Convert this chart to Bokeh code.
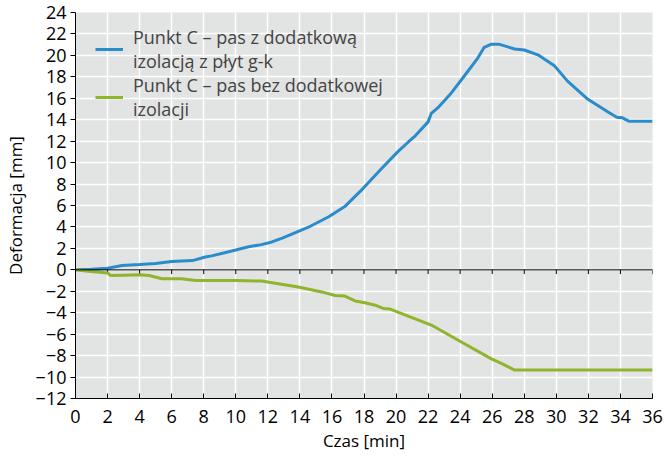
from bokeh.plotting import figure
from bokeh.models import Legend, LegendItem, Range1d, FixedTicker, Span
from bokeh.embed import file_html
from bokeh.resources import INLINE

# ---- data ----
blue_t = [0, 1, 2, 2.9, 4, 5, 6, 7.3, 8.1, 8.5, 10, 10.8, 11.6, 12.25, 12.9, 14.5, 15.8,
          16.8, 17.95, 19.1, 20.1, 20.75, 21.2, 22.0, 22.2, 22.6, 23.45, 24.27, 25.1, 25.5,
          25.95, 26.4, 27.4, 28.0, 28.85, 29.9, 30.7, 31.97, 33.2, 33.8, 34.1, 34.55, 36]
blue_v = [0, 0.05, 0.15, 0.4, 0.5, 0.6, 0.77, 0.86, 1.2, 1.3, 1.85, 2.15, 2.35, 2.6, 2.95, 3.95, 4.95,
          5.9, 7.6, 9.45, 11.0, 11.9, 12.5, 13.8, 14.6, 15.1, 16.5, 18.1, 19.75, 20.75,
          21.05, 21.05, 20.6, 20.5, 20.05, 19.0, 17.6, 15.9, 14.75, 14.2, 14.2, 13.85, 13.85]

green_t = [0, 0.8, 1.5, 2.0, 2.2, 3.0, 4.0, 4.6, 5.4, 6.6, 7.5, 10.0, 11.6, 13.9, 15.36, 16.2,
           16.8, 17.45, 18.06, 18.7, 19.2, 19.6, 20.55, 22.2, 24.1, 25.95, 26.6, 27.4, 36]
green_v = [0, -0.13, -0.22, -0.3, -0.53, -0.5, -0.46, -0.53, -0.83, -0.83, -0.99, -1.0, -1.05, -1.6, -2.06, -2.4,
           -2.45, -2.9, -3.07, -3.3, -3.6, -3.65, -4.2, -5.15, -6.75, -8.3, -8.75, -9.35, -9.35]

label_blue = "Punkt C – pas z dodatkową\nizolacją z płyt g-k"
label_green = "Punkt C – pas bez dodatkowej\nizolacji"

x_ticks = list(range(0, 37, 2))
y_ticks = list(range(-12, 25, 2))
y_tick_labels = {v: ("−" + str(-v)) if v < 0 else str(v) for v in y_ticks}

FONT = "Open Sans"
BLUE = "#2a8ccb"
GREEN = "#8fb52c"

W, H = 670, 457
BORDER_TOP, BORDER_BOTTOM = 12, 59
FRAME_H = H - BORDER_TOP - BORDER_BOTTOM
LEGEND_H = 108

p = figure(width=W, height=H, output_backend="svg", toolbar_location=None,
           x_range=Range1d(0, 36), y_range=Range1d(-12, 24),
           min_border_left=73, min_border_right=18,
           min_border_top=BORDER_TOP, min_border_bottom=BORDER_BOTTOM)
p.outline_line_color = None
p.background_fill_color = "#e2e3e3"
p.border_fill_color = "white"

# grid
p.xgrid.ticker = FixedTicker(ticks=x_ticks)
p.ygrid.ticker = FixedTicker(ticks=y_ticks)
for g in (p.xgrid, p.ygrid):
    g.grid_line_color = "white"
    g.grid_line_width = 1.5

# axes
p.xaxis.ticker = FixedTicker(ticks=x_ticks)
p.yaxis.ticker = FixedTicker(ticks=y_ticks)
p.yaxis.major_label_overrides = y_tick_labels
for ax in (p.xaxis, p.yaxis):
    ax.axis_line_color = "black"
    ax.major_tick_line_color = "black"
    ax.minor_tick_line_color = None
    ax.major_label_text_font = FONT
    ax.major_label_text_font_size = "18px"
    ax.major_label_text_color = "black"
    ax.axis_label_text_font = FONT
    ax.axis_label_text_font_size = "17px"
    ax.axis_label_text_font_style = "normal"
    ax.axis_label_text_color = "black"
p.xaxis.major_tick_in = 5
p.xaxis.major_tick_out = 0
p.xaxis.major_label_standoff = 11
p.xaxis.axis_label = "Czas [min]"
p.xaxis.axis_label_standoff = 3
p.yaxis.major_tick_in = 0
p.yaxis.major_tick_out = 5
p.yaxis.major_label_standoff = 4
p.yaxis.axis_label = "Deformacja [mm]"
p.yaxis.axis_label_standoff = 6

# zero line with downward ticks
p.add_layout(Span(location=0, dimension="width", line_color="black", line_width=1))
p.segment(x0=x_ticks, y0=[0] * len(x_ticks), x1=x_ticks, y1=[-0.4] * len(x_ticks),
          line_color="black", line_width=1)

r1 = p.line(blue_t, blue_v, line_color=BLUE, line_width=3)
r2 = p.line(green_t, green_v, line_color=GREEN, line_width=3)

legend = Legend(items=[LegendItem(label=label_blue, renderers=[r1]),
                       LegendItem(label=label_green, renderers=[r2])],
                location=(16, FRAME_H - 5 - LEGEND_H), background_fill_alpha=0, border_line_alpha=0,
                glyph_width=28, glyph_height=20, label_text_font=FONT, label_text_font_size="18px",
                label_text_line_height=1.0, label_standoff=10, spacing=0, padding=4, margin=0)
p.add_layout(legend)

open("out.html", "w").write(file_html(p, INLINE))
